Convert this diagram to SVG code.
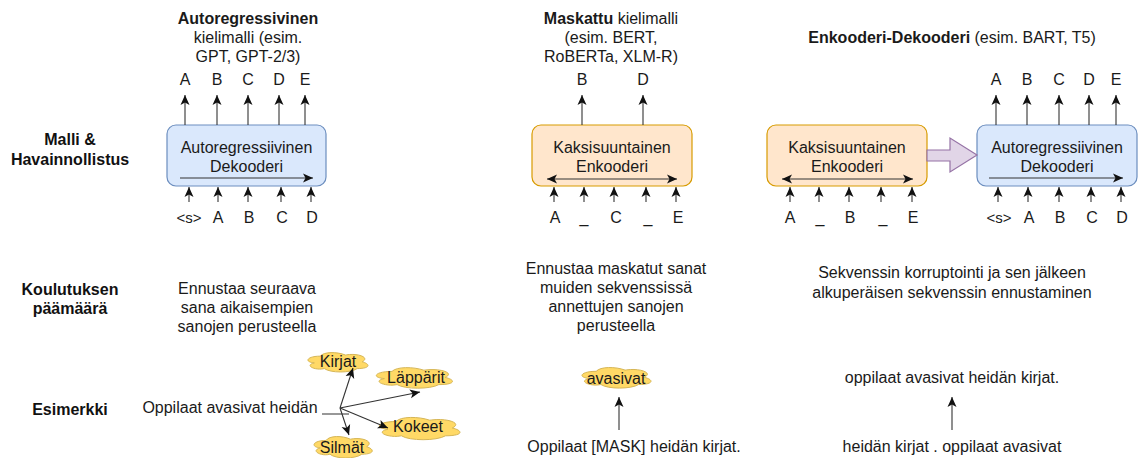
<svg xmlns="http://www.w3.org/2000/svg" xmlns:xlink="http://www.w3.org/1999/xlink" width="1138" height="458" viewBox="0 0 1138 458">
<style>
text{font-family:"Liberation Sans",Arial,sans-serif;font-size:16px;fill:#1a1a1a;text-anchor:middle}
.b{font-weight:bold}
.lbl{font-weight:bold;fill:#111}
.blue{fill:#dae8fc;stroke:#6c8ebf;stroke-width:1.2}
.orange{fill:#ffe6cc;stroke:#d79b00;stroke-width:1.2}
.cloud{fill:#ffd966;stroke:#d6b656;stroke-width:1}
.ar{stroke:#333;stroke-width:1.1;fill:none;marker-end:url(#ah)}
.dar{stroke:#333;stroke-width:1.1;fill:none;marker-end:url(#ah);marker-start:url(#ah)}
.ln{stroke:#444;stroke-width:1.1;fill:none}
</style>
<defs>
<marker id="ah" viewBox="0 0 10 10" refX="10" refY="5" markerWidth="10" markerHeight="10" markerUnits="userSpaceOnUse" orient="auto-start-reverse">
<path d="M0,0.5 L10,5 L0,9.5 L2.5,5 Z" fill="#111"/>
</marker>
<path id="cloudShape" d="M25,25 C5,25 0,50 16,55 C0,66 18,90 31,80 C40,100 70,100 80,80 C100,80 100,60 87.5,50 C100,30 80,10 62.5,20 C50,5 30,5 25,25 Z" vector-effect="non-scaling-stroke"/>
</defs>

<g id="row-labels">
<text class="lbl" x="70" y="145">Malli &amp;</text>
<text class="lbl" x="70" y="165">Havainnollistus</text>
<text class="lbl" x="70" y="295">Koulutuksen</text>
<text class="lbl" x="70" y="314">päämäärä</text>
<text class="lbl" x="70" y="415">Esimerkki</text>
</g>

<g id="headers">
<text class="b" x="248" y="24">Autoregressivinen</text>
<text x="248" y="43">kielimalli (esim.</text>
<text x="248" y="62">GPT, GPT-2/3)</text>
<text x="611" y="24"><tspan class="b">Maskattu</tspan> kielimalli</text>
<text x="611" y="43">(esim. BERT,</text>
<text x="611" y="62">RoBERTa, XLM-R)</text>
<text x="952" y="43"><tspan class="b">Enkooderi-Dekooderi</tspan> (esim. BART, T5)</text>
</g>

<g id="ar-decoder-1">
<rect class="blue" x="167" y="125" width="159" height="61" rx="9"/>
<text x="246.5" y="153">Autoregressiivinen</text>
<text x="246.5" y="172">Dekooderi</text>
</g>

<g id="mlm-encoder">
<rect class="orange" x="532" y="125" width="160" height="61" rx="9"/>
<text x="612" y="153">Kaksisuuntainen</text>
<text x="612" y="172">Enkooderi</text>
</g>

<g id="encdec-encoder">
<rect class="orange" x="767" y="125" width="160" height="61" rx="9"/>
<text x="847" y="153">Kaksisuuntainen</text>
<text x="847" y="172">Enkooderi</text>
</g>

<g id="encdec-decoder">
<rect class="blue" x="977" y="125" width="160" height="61" rx="9"/>
<text x="1057" y="153">Autoregressiivinen</text>
<text x="1057" y="172">Dekooderi</text>
</g>

<g id="block-arrow">
<polygon points="927,150 950,150 950,138 977,155 950,172 950,161 927,161" fill="#e1d5e7" stroke="#9673a6" stroke-width="1.2"/>
</g>

<g id="tokens">
<text x="185" y="85">A</text><text x="217" y="85">B</text><text x="248" y="85">C</text><text x="279" y="85">D</text><text x="305" y="85">E</text>
<text x="189" y="223" style="font-size:15px">&lt;s&gt;</text><text x="218" y="223">A</text><text x="249" y="223">B</text><text x="282" y="223">C</text><text x="312" y="223">D</text>
<text x="582" y="85">B</text><text x="643" y="85">D</text>
<text x="555" y="223">A</text><text x="584" y="223">_</text><text x="616" y="223">C</text><text x="648" y="223">_</text><text x="678" y="223">E</text>
<text x="790" y="223">A</text><text x="820" y="223">_</text><text x="850" y="223">B</text><text x="883" y="223">_</text><text x="913" y="223">E</text>
<text x="996" y="85">A</text><text x="1027" y="85">B</text><text x="1059" y="85">C</text><text x="1089" y="85">D</text><text x="1116" y="85">E</text>
<text x="999" y="223" style="font-size:15px">&lt;s&gt;</text><text x="1029" y="223">A</text><text x="1060" y="223">B</text><text x="1092" y="223">C</text><text x="1122" y="223">D</text>
</g>

<g id="goals">
<text x="247" y="294">Ennustaa seuraava</text>
<text x="247" y="313">sana aikaisempien</text>
<text x="247" y="332">sanojen perusteella</text>
<text x="616" y="274">Ennustaa maskatut sanat</text>
<text x="616" y="293">muiden sekvenssissä</text>
<text x="616" y="312">annettujen sanojen</text>
<text x="616" y="331">perusteella</text>
<text x="952" y="278">Sekvenssin korruptointi ja sen jälkeen</text>
<text x="952" y="298">alkuperäisen sekvenssin ennustaminen</text>
</g>

<g id="example-ar">
<text x="230" y="413">Oppilaat avasivat heidän</text>
<use href="#cloudShape" class="cloud" transform="translate(303.6,350.5) scale(0.67,0.226)"/>
<text x="338" y="367">Kirjat</text>
<use href="#cloudShape" class="cloud" transform="translate(370.8,365.4) scale(0.85,0.24)"/>
<text x="416" y="383">Läppärit</text>
<use href="#cloudShape" class="cloud" transform="translate(373.5,415) scale(0.9,0.26)"/>
<text x="418" y="432">Kokeet</text>
<use href="#cloudShape" class="cloud" transform="translate(309.8,434.2) scale(0.65,0.25)"/>
<text x="342" y="453">Silmät</text>
</g>

<g id="example-mlm">
<use href="#cloudShape" class="cloud" transform="translate(577,365.3) scale(0.77,0.24)"/>
<text x="616" y="384">avasivat</text>
<text x="634" y="452">Oppilaat [MASK] heidän kirjat.</text>
</g>

<g id="example-encdec">
<text x="952" y="383">oppilaat avasivat heidän kirjat.</text>
<text x="952" y="452">heidän kirjat . oppilaat avasivat</text>
</g>

<g id="connectors">
<!-- col 1 outputs -->
<line class="ar" x1="185" y1="125" x2="185" y2="95"/>
<line class="ar" x1="217" y1="125" x2="217" y2="95"/>
<line class="ar" x1="248" y1="125" x2="248" y2="95"/>
<line class="ar" x1="279" y1="125" x2="279" y2="95"/>
<line class="ar" x1="305" y1="125" x2="305" y2="95"/>
<!-- col 1 inputs -->
<line class="ar" x1="189" y1="202" x2="189" y2="187"/>
<line class="ar" x1="218" y1="202" x2="218" y2="187"/>
<line class="ar" x1="248" y1="202" x2="248" y2="187"/>
<line class="ar" x1="281" y1="202" x2="281" y2="187"/>
<line class="ar" x1="311" y1="202" x2="311" y2="187"/>
<line class="ar" x1="180" y1="178" x2="313" y2="178"/>
<!-- col 2 -->
<line class="ar" x1="582" y1="125" x2="582" y2="95"/>
<line class="ar" x1="643" y1="125" x2="643" y2="95"/>
<line class="ar" x1="554" y1="202" x2="554" y2="187"/>
<line class="ar" x1="584" y1="202" x2="584" y2="187"/>
<line class="ar" x1="614" y1="202" x2="614" y2="187"/>
<line class="ar" x1="646" y1="202" x2="646" y2="187"/>
<line class="ar" x1="676" y1="202" x2="676" y2="187"/>
<line class="dar" x1="547" y1="179" x2="677" y2="179"/>
<!-- col 3 encoder -->
<line class="ar" x1="790" y1="202" x2="790" y2="187"/>
<line class="ar" x1="819" y1="202" x2="819" y2="187"/>
<line class="ar" x1="849" y1="202" x2="849" y2="187"/>
<line class="ar" x1="881" y1="202" x2="881" y2="187"/>
<line class="ar" x1="912" y1="202" x2="912" y2="187"/>
<line class="dar" x1="782" y1="179" x2="913" y2="179"/>
<!-- col 3 decoder -->
<line class="ar" x1="996" y1="125" x2="996" y2="95"/>
<line class="ar" x1="1027" y1="125" x2="1027" y2="95"/>
<line class="ar" x1="1059" y1="125" x2="1059" y2="95"/>
<line class="ar" x1="1089" y1="125" x2="1089" y2="95"/>
<line class="ar" x1="1116" y1="125" x2="1116" y2="95"/>
<line class="ar" x1="998" y1="202" x2="998" y2="187"/>
<line class="ar" x1="1028" y1="202" x2="1028" y2="187"/>
<line class="ar" x1="1059" y1="202" x2="1059" y2="187"/>
<line class="ar" x1="1091" y1="202" x2="1091" y2="187"/>
<line class="ar" x1="1121" y1="202" x2="1121" y2="187"/>
<line class="ar" x1="989" y1="178" x2="1123" y2="178"/>
<!-- example row -->
<line class="ln" x1="322" y1="414" x2="349" y2="414"/>
<line class="ar" x1="340" y1="408" x2="353" y2="368"/>
<line class="ar" x1="340" y1="408" x2="420" y2="392"/>
<line class="ar" x1="340" y1="408" x2="388" y2="428"/>
<line class="ar" x1="340" y1="408" x2="349" y2="435"/>
<line class="ar" x1="619" y1="430" x2="619" y2="397"/>
<line class="ar" x1="952" y1="430" x2="952" y2="397"/>
</g>
</svg>
